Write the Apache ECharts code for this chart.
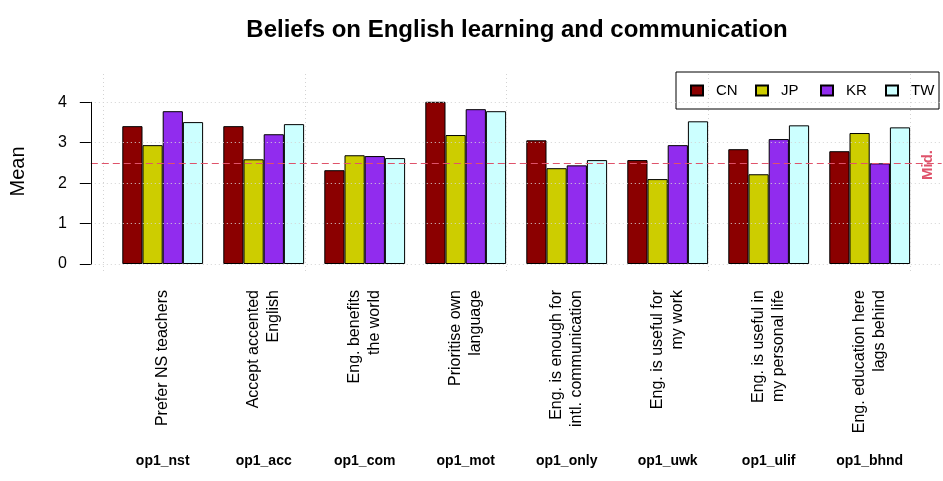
<!DOCTYPE html>
<html>
<head>
<meta charset="utf-8">
<script src="https://cdn.jsdelivr.net/npm/echarts@6/dist/echarts.min.js"></script>
<style>
html, body { margin: 0; padding: 0; background: #fff; }
#mainWrap { width: 943px; height: 481px; }
</style>
</head>
<body>
<div id="mainWrap"></div>
<script>
// item labels (shown rotated) and variable codes under them
var labels = ['Prefer NS teachers', 'Accept accented\nEnglish', 'Eng. benefits\nthe world',
    'Prioritise own\nlanguage', 'Eng. is enough for\nintl. communication', 'Eng. is useful for\nmy work',
    'Eng. is useful in\nmy personal life', 'Eng. education here\nlags behind'];
var codes = ['op1_nst', 'op1_acc', 'op1_com', 'op1_mot', 'op1_only', 'op1_uwk', 'op1_ulif', 'op1_bhnd'];

// group means per region
var CN = [3.41, 3.41, 2.32, 4.12, 3.06, 2.57, 2.84, 2.79];
var JP = [2.94, 2.59, 2.69, 3.19, 2.37, 2.10, 2.22, 3.24];
var KR = [3.78, 3.21, 2.67, 3.83, 2.44, 2.94, 3.09, 2.49];
var TW = [3.51, 3.46, 2.62, 3.78, 2.57, 3.53, 3.43, 3.38];

var regions = ['CN', 'JP', 'KR', 'TW'];
var colors = ['#8B0000', '#CDCD00', '#912CEE', '#CCFFFF'];
var midValue = 2.5;
// R barplot units where grid() put vertical lines
var vLines = [0, 10, 20, 30, 40];

var font = 'Liberation Sans, Arial, sans-serif';
var gridLine = {color: '#D3D3D3', width: 1, type: [1, 3]};

var myChart = echarts.init(document.getElementById('mainWrap'));

var barSeries = [CN, JP, KR, TW].map(function (vals, i) {
    return {
        name: regions[i],
        type: 'bar',
        xAxisIndex: 0,
        yAxisIndex: 0,
        data: vals,
        barWidth: 20.2,
        barGap: 0,
        barCategoryGap: '20%',
        z: 2,
        itemStyle: {color: colors[i], borderColor: '#000', borderWidth: 1}
    };
});

var option = {
    animation: false,
    title: {
        text: 'Beliefs on English learning and communication',
        left: 512,
        top: 13,
        textAlign: 'center',
        textStyle: {fontFamily: font, fontSize: 24, fontWeight: 'bold', color: '#000'}
    },
    legend: {
        data: regions,
        left: 676,
        top: 72,
        width: 320,
        padding: [10, 4, 10, 14],
        borderColor: '#000',
        borderWidth: 1,
        icon: 'rect',
        itemWidth: 12,
        itemHeight: 10,
        itemGap: 15,
        selectedMode: false,
        textStyle: {fontFamily: font, fontSize: 15, color: '#000', width: 24, overflow: 'none',
            lineHeight: 17, padding: [0, 0, 0, 8]}
    },
    grid: [
        // bars
        {left: 112.2, right: 22.8, top: 102.3, bottom: 217, containLabel: false},
        // y axis, horizontal grid, mid line
        {left: 90.8, right: 1.4, top: 102.3, bottom: 217, containLabel: false},
        // full plot region: vertical grid + axis title
        {left: 90.8, right: 1.4, top: 72, bottom: 210, containLabel: false}
    ],
    xAxis: [
        {
            type: 'category', gridIndex: 0, data: labels, position: 'bottom',
            axisLine: {show: false}, axisTick: {show: false},
            axisLabel: {interval: 0, rotate: 90, margin: 26, fontFamily: font, fontSize: 16,
                lineHeight: 20, color: '#000'}
        },
        {
            type: 'category', gridIndex: 0, data: codes, position: 'bottom',
            axisLine: {show: false}, axisTick: {show: false},
            axisLabel: {interval: 0, margin: 190, fontFamily: font, fontSize: 14,
                fontWeight: 'bold', color: '#000'}
        },
        {type: 'value', gridIndex: 1, min: 0, max: 1, show: false},
        {type: 'value', gridIndex: 2, min: -0.56, max: 41.56, show: false}
    ],
    yAxis: [
        {type: 'value', gridIndex: 0, min: 0, max: 4, show: false},
        {
            type: 'value', gridIndex: 1, min: 0, max: 4, interval: 1, z: 5,
            axisLine: {show: true, lineStyle: {color: '#000', width: 1}},
            axisTick: {show: true, length: 11, lineStyle: {color: '#000'}},
            axisLabel: {margin: 24, fontFamily: font, fontSize: 16, color: '#000'},
            splitLine: {show: true, lineStyle: gridLine}
        },
        {
            type: 'value', gridIndex: 2, min: 0, max: 1,
            name: 'Mean', nameLocation: 'middle', nameGap: 64, nameRotate: 90,
            nameTextStyle: {fontFamily: font, fontSize: 20, color: '#000'},
            axisLine: {show: false}, axisTick: {show: false},
            axisLabel: {show: false}, splitLine: {show: false}
        }
    ],
    graphic: [{
        type: 'text',
        x: 928,
        y: 165,
        rotation: Math.PI / 2,
        style: {text: 'Mid.', fill: '#DF536B', font: 'bold 15px Liberation Sans, Arial, sans-serif',
            align: 'center', verticalAlign: 'middle'}
    }],
    series: barSeries.concat([
        {
            name: 'mid',
            type: 'line',
            xAxisIndex: 2,
            yAxisIndex: 1,
            data: [[0, 0]],
            symbol: 'none',
            lineStyle: {opacity: 0},
            silent: true,
            z: 1,
            markLine: {
                silent: true,
                symbol: 'none',
                label: {show: false},
                lineStyle: {color: '#DF536B', width: 1.2, type: [7, 4]},
                data: [{yAxis: midValue}]
            }
        },
        {
            name: 'vgrid',
            type: 'line',
            xAxisIndex: 3,
            yAxisIndex: 2,
            data: [[0, 0]],
            symbol: 'none',
            lineStyle: {opacity: 0},
            silent: true,
            z: 6,
            markLine: {
                silent: true,
                symbol: 'none',
                label: {show: false},
                lineStyle: gridLine,
                data: vLines.map(function (v) { return {xAxis: v}; })
            }
        }
    ])
};
myChart.setOption(option);
</script>
</body>
</html>
